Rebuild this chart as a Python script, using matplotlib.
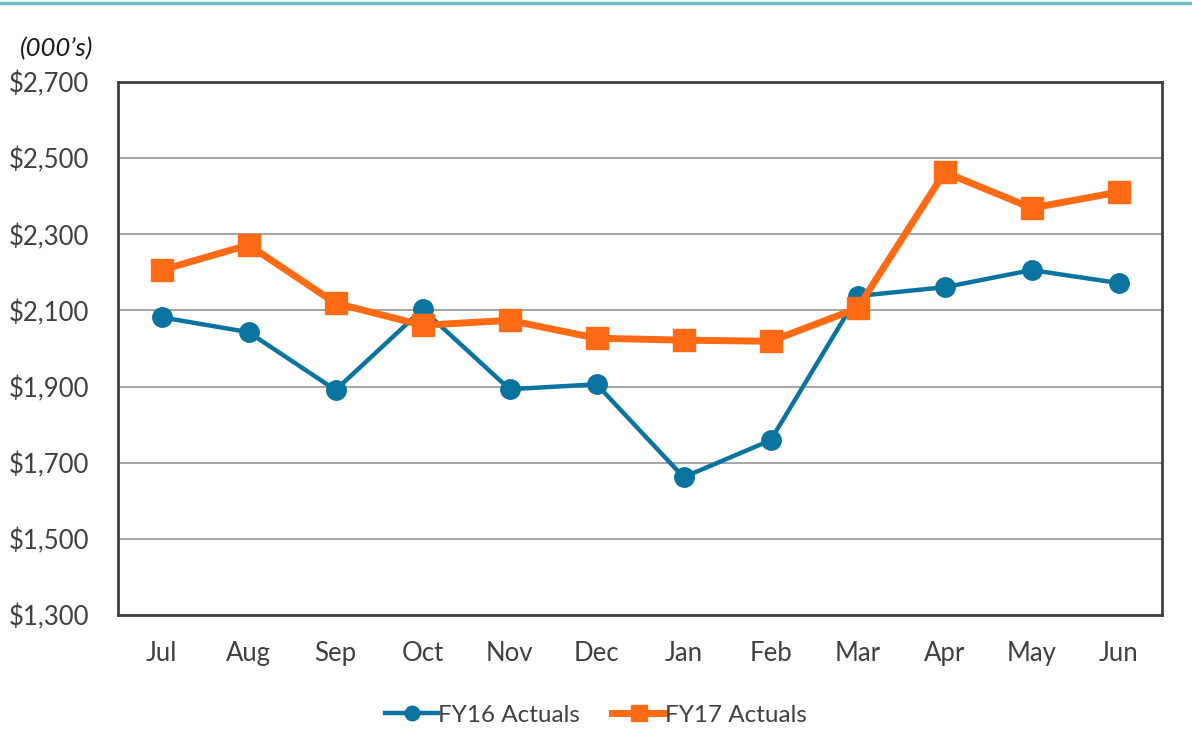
import matplotlib
matplotlib.use("Agg")
import matplotlib.pyplot as plt
from matplotlib.ticker import FuncFormatter

months = ["Jul", "Aug", "Sep", "Oct", "Nov", "Dec", "Jan", "Feb", "Mar", "Apr", "May", "Jun"]
fy16 = [2082, 2043, 1891, 2103, 1893, 1906, 1662, 1759, 2138, 2161, 2206, 2172]
fy17 = [2206, 2272, 2119, 2061, 2074, 2027, 2022, 2019, 2106, 2463, 2369, 2411]
y_ticks = [1300, 1500, 1700, 1900, 2100, 2300, 2500, 2700]

plt.rcParams['font.family'] = ['Lato', 'DejaVu Sans']

fig = plt.figure(figsize=(11.92, 7.56), dpi=100)
ax = fig.add_axes([0.099, 0.1865, 0.876, 0.705])

x = range(len(months))
ax.plot(x, fy16, color="#0A73A0", lw=3.2, marker="o", ms=14, label="FY16 Actuals", zorder=3)
ax.plot(x, fy17, color="#FF6B14", lw=5, marker="s", ms=16, label="FY17 Actuals", zorder=4)

ax.set_xlim(-0.5, 11.5)
ax.set_ylim(1300, 2700)
ax.set_yticks(y_ticks)
ax.yaxis.set_major_formatter(FuncFormatter(lambda v, p: f"${v:,.0f}"))
ax.set_xticks(list(x))
ax.set_xticklabels(months)
ax.tick_params(axis="both", length=0, labelsize=18.5, colors="#404040")
ax.tick_params(axis="x", pad=19)
ax.tick_params(axis="y", pad=21)
ax.grid(axis="y", color="#8c8c8c", lw=1.1, zorder=0)
for s in ax.spines.values():
    s.set_color("#404040")
    s.set_linewidth(2)

fig.text(0.017, 0.926, "(000\u2019s)", fontsize=18.5, style="italic", color="#1a1a1a")
fig.add_artist(plt.Line2D([0, 1], [0.9965, 0.9965], color="#6BC2C8", lw=2.5))

handles, labels = ax.get_legend_handles_labels()
fig.legend(handles, labels, loc="center", bbox_to_anchor=(0.5, 0.054), ncol=2, frameon=False,
           fontsize=17.5, handlelength=2.2, columnspacing=1.3, handletextpad=0.0,
           markerscale=0.75, labelcolor="#404040")

fig.savefig("out.png", dpi=100)
